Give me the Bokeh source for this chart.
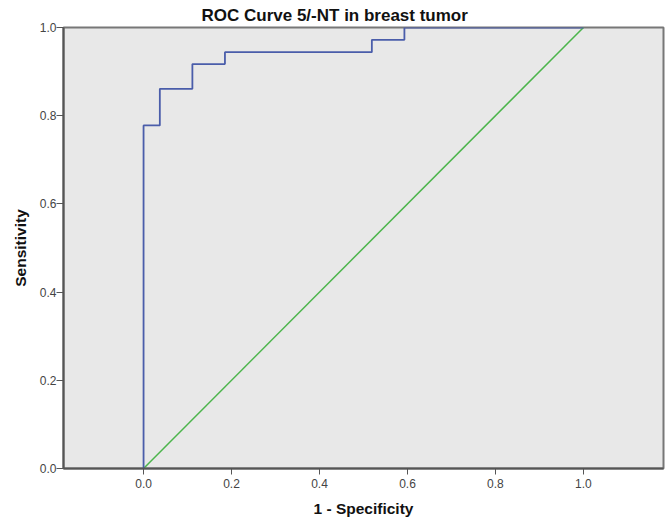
from bokeh.plotting import figure
from bokeh.embed import file_html
from bokeh.resources import INLINE
from bokeh.models import Range1d, FixedTicker, PrintfTickFormatter

# ROC points (1 - specificity, sensitivity)
fpr = [0.0, 0.0, 0.037, 0.111, 0.185, 0.519, 0.593, 1.0]
tpr = [0.0, 0.778, 0.861, 0.917, 0.944, 0.972, 1.0, 1.0]
ref_x = [0.0, 1.0]
ref_y = [0.0, 1.0]
x_ticks = [0.0, 0.2, 0.4, 0.6, 0.8, 1.0]
y_ticks = [0.0, 0.2, 0.4, 0.6, 0.8, 1.0]

p = figure(width=668, height=519, output_backend="svg", toolbar_location=None,
           x_range=Range1d(-0.182, 1.182), y_range=Range1d(0, 1),
           min_border_left=63, min_border_right=5, min_border_top=27, min_border_bottom=51)

p.title.text = "ROC Curve 5/-NT in breast tumor"
p.title.align = "left"
p.title.offset = 138
p.title.standoff = 5
p.title.text_font = "Liberation Sans"
p.title.text_font_size = "17px"
p.title.text_font_style = "bold"
p.title.text_color = "#111111"

p.background_fill_color = "#E8E8E8"
p.border_fill_color = "white"
p.outline_line_color = "#777777"
p.outline_line_width = 2
p.grid.visible = False

for ax in (p.xaxis, p.yaxis):
    ax.axis_line_color = "#555555"
    ax.axis_line_width = 2
    ax.major_tick_line_color = "#555555"
    ax.major_tick_line_width = 1
    ax.major_tick_in = 0
    ax.minor_tick_line_color = None
    ax.major_label_text_font = "Liberation Sans"
    ax.major_label_text_font_size = "12px"
    ax.major_label_text_color = "#444444"
    ax.axis_label_text_font = "Liberation Sans"
    ax.axis_label_text_font_size = "15.5px"
    ax.axis_label_text_font_style = "bold"
    ax.axis_label_text_color = "#111111"
    ax.formatter = PrintfTickFormatter(format="%.1f")

p.xaxis.ticker = FixedTicker(ticks=x_ticks)
p.yaxis.ticker = FixedTicker(ticks=y_ticks)
p.xaxis.axis_label = "1 - Specificity"
p.yaxis.axis_label = "Sensitivity"
p.xaxis.major_tick_out = 6
p.yaxis.major_tick_out = 7
p.xaxis.major_label_standoff = 4
p.yaxis.major_label_standoff = 0
p.xaxis.axis_label_standoff = 9
p.yaxis.axis_label_standoff = 8

p.line(ref_x, ref_y, line_color="#4CB54C", line_width=1.5)
p.step(fpr, tpr, mode="after", line_color="#4A5DAA", line_width=1.8)

open("out.html", "w").write(file_html(p, INLINE))
